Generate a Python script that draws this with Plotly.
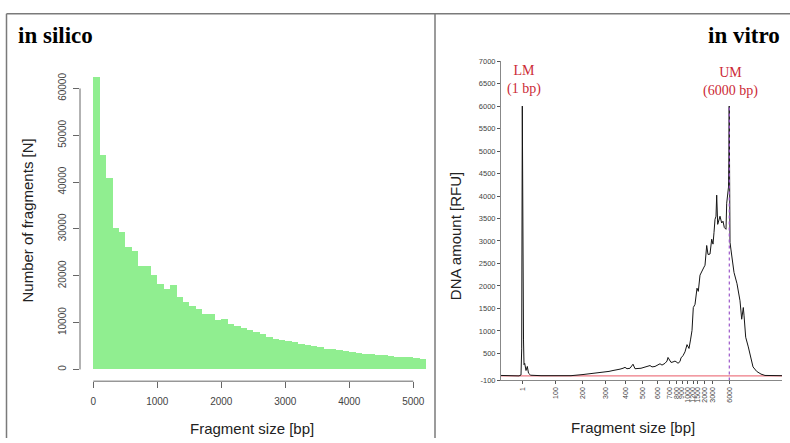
import plotly.graph_objects as go

W, H = 790, 443

# ---------------- in silico histogram ----------------
bin_width = 100
bin_starts = list(range(0, 5200, bin_width))
counts = [62500, 45700, 40900, 30300, 29400, 26200, 25200, 22100, 22100, 20200,
          18200, 17200, 18000, 15500, 14500, 13600, 12800, 11800, 11800, 10500,
          10700, 9800, 9300, 8900, 8400, 7950, 7500, 6900, 6600, 6350,
          6000, 5800, 5500, 5200, 4950, 4800, 4450, 4300, 4100, 3900,
          3700, 3550, 3400, 3300, 3050, 3000, 2850, 2700, 2650, 2600,
          2500, 2300]
silico_xticks = [0, 1000, 2000, 3000, 4000, 5000]
silico_yticks = [0, 10000, 20000, 30000, 40000, 50000, 60000]

# ---------------- in vitro electropherogram ----------------
ladder_bp = ["1", "100", "200", "300", "400", "500", "600", "700", "800", "900",
             "1000", "1200", "1500", "2000", "3000", "6000"]
ladder_pos = [21.7, 54.5, 81.5, 104.5, 124.3, 141.7, 156.5, 168.5, 175.7, 181,
              186.7, 192, 196.7, 203.3, 211.5, 228.3]
migration = [0, 10, 18, 20, 20.7, 21.3, 21.7, 22.0, 22.5, 23, 23.7, 25, 26.3, 27.5, 29.7,
             40, 55, 70, 82, 95, 104, 108, 112, 116, 119, 122, 124, 126, 129, 132, 134,
             140, 144, 149, 151, 154, 159, 161, 164, 166, 167, 168.5, 170, 172, 174, 176,
             177, 179, 180, 182, 184, 186, 188, 189.5, 191, 192.3, 194, 196, 197.3, 199,
             201.7, 203, 204, 205.7, 207, 209, 210.7, 212, 213, 214, 215, 215.7, 216.7,
             218.3, 219, 220.7, 222, 223.3, 225, 225.7, 226.7, 227.5, 227.8, 228.2, 228.6,
             229, 230, 233, 236, 239, 240.7, 242.3, 243, 244.7, 247.3, 249, 250.7, 252,
             255.7, 260, 264, 270, 281]
rfu = [10, 5, 0, 20, 600, 6000, 3000, 1390, 800, 250, 280, 120, 210, 60, 15,
       5, 0, 5, 30, 60, 80, 100, 120, 130, 150, 170, 190, 160, 170, 260, 160,
       170, 190, 230, 200, 210, 270, 240, 280, 330, 410, 350, 300, 310, 330, 300,
       280, 320, 400, 450, 535, 695, 610, 800, 1010, 1520, 1590, 1950, 1880, 2240,
       2390, 2420, 2460, 2900, 2700, 2710, 3040, 2930, 3190, 3480, 3550, 4020, 3370,
       3510, 3550, 3400, 3440, 3300, 3260, 3840, 3985, 4200, 4800, 6000, 4500,
       2970, 2800, 2300, 2050, 1670, 1260, 1520, 1350, 860, 645, 460, 280, 200,
       100, 40, 10, 5, 5]
vitro_yticks = [-100, 500, 1000, 1500, 2000, 2500, 3000, 3500, 4000, 4500,
                5000, 5500, 6000, 6500, 7000]
baseline_rfu = 0
marker_peak_rfu = 6000


def fx(px):
    return px / W


def fy(py):
    return (H - py) / H


fig = go.Figure()

# histogram bars
fig.add_trace(go.Bar(
    x=[s + bin_width / 2 for s in bin_starts], y=counts, width=bin_width,
    marker=dict(color="#90EE90", line=dict(width=0)),
    xaxis="x", yaxis="y", showlegend=False, hoverinfo="x+y"))

# red baseline
fig.add_trace(go.Scatter(
    x=[0, 281], y=[baseline_rfu, baseline_rfu], mode="lines",
    line=dict(color="#ee7a84", width=1.2), xaxis="x2", yaxis="y2",
    showlegend=False, hoverinfo="skip"))

# electropherogram
fig.add_trace(go.Scatter(
    x=migration, y=rfu, mode="lines", line=dict(color="#151515", width=1.0),
    xaxis="x2", yaxis="y2", showlegend=False))

# upper marker dotted line
um_pos = ladder_pos[ladder_bp.index("6000")]
fig.add_trace(go.Scatter(
    x=[um_pos, um_pos], y=[vitro_yticks[0], marker_peak_rfu], mode="lines",
    line=dict(color="#9a55c8", width=1.2, dash="dot"),
    xaxis="x2", yaxis="y2", showlegend=False, hoverinfo="skip"))

silico_ymax = max(counts)
silico_xmax = bin_starts[-1] + bin_width

axis_font = dict(family="Liberation Sans, Arial", size=10, color="#444444")

fig.update_layout(
    width=W, height=H,
    margin=dict(l=0, r=0, t=0, b=0),
    paper_bgcolor="white", plot_bgcolor="white",
    bargap=0,
    xaxis=dict(domain=[fx(80), fx(439.4)],
               range=[-0.04 * silico_xmax, 1.04 * silico_xmax],
               tickvals=silico_xticks, ticktext=[str(v) for v in silico_xticks],
               ticks="outside", ticklen=6,
               tickcolor="#666666", tickwidth=1, showgrid=False, zeroline=False,
               showline=False, tickfont=axis_font, ticklabelstandoff=5,
               anchor="y"),
    yaxis=dict(domain=[fy(385), fy(62.3)],
               range=[-0.04 * silico_ymax, 1.04 * silico_ymax],
               tickvals=silico_yticks, ticktext=[str(v) for v in silico_yticks],
               ticks="outside", ticklen=6,
               tickcolor="#666666", tickwidth=1, showgrid=False, zeroline=False,
               showline=False, tickangle=-90, tickfont=axis_font,
               ticklabelstandoff=3, anchor="x"),
    xaxis2=dict(domain=[fx(501), fx(782)], range=[0, 281],
                tickvals=ladder_pos, ticktext=ladder_bp, tickangle=-90,
                ticks="outside", ticklen=3, tickcolor="#555555",
                showgrid=False, zeroline=False, showline=True,
                linecolor="#888888", linewidth=1,
                tickfont=dict(family="Liberation Sans, Arial", size=7,
                              color="#444444"),
                anchor="y2"),
    yaxis2=dict(domain=[fy(384.2), fy(58.3)], range=[vitro_yticks[0], vitro_yticks[-1]],
                tickvals=vitro_yticks, ticktext=[str(v) for v in vitro_yticks],
                ticks="outside", ticklen=3,
                tickcolor="#555555", showgrid=False, zeroline=False,
                showline=True, linecolor="#888888", linewidth=1,
                tickfont=dict(family="Liberation Sans, Arial", size=7.5,
                              color="#444444"),
                anchor="x2"),
)

shapes = [
    # R-style axis lines spanning the tick range
    dict(type="line", xref="x", yref="y domain", x0=silico_xticks[0], x1=silico_xticks[-1],
         y0=0, y1=0, line=dict(color="#666666", width=1)),
    dict(type="line", xref="x domain", yref="y", x0=0, x1=0,
         y0=silico_yticks[0], y1=silico_yticks[-1], line=dict(color="#666666", width=1)),
    # frame of the composite figure
    dict(type="line", xref="paper", yref="paper", x0=fx(6.5), x1=fx(790), y0=fy(10), y1=fy(10),
         line=dict(color="#7a7a7a", width=1.5)),
    dict(type="line", xref="paper", yref="paper", x0=fx(6.5), x1=fx(6.5), y0=fy(10), y1=fy(443),
         line=dict(color="#7a7a7a", width=1.5)),
    dict(type="line", xref="paper", yref="paper", x0=fx(435), x1=fx(435), y0=fy(10), y1=fy(443),
         line=dict(color="#7a7a7a", width=1.5)),
]
fig.update_layout(shapes=shapes)

title_font = dict(family="Liberation Serif, Times New Roman", size=23, color="black")
label_font = dict(family="Liberation Sans, Arial", size=15, color="#222222")
marker_font = dict(family="Liberation Serif, Times New Roman", size=14, color="#cc2a36")

annotations = [
    dict(text="<b>in silico</b>", xref="paper", yref="paper", x=fx(16), y=fy(32),
         xanchor="left", yanchor="middle", showarrow=False, font=title_font),
    dict(text="<b>in vitro</b>", xref="paper", yref="paper", x=fx(782), y=fy(32),
         xanchor="right", yanchor="middle", showarrow=False, font=title_font),
    dict(text="Number of fragments [N]", xref="paper", yref="paper", x=fx(28), y=fy(221),
         xanchor="center", yanchor="middle", textangle=-90, showarrow=False, font=label_font),
    dict(text="Fragment size [bp]", xref="paper", yref="paper", x=fx(252), y=fy(433),
         xanchor="center", yanchor="middle", showarrow=False, font=label_font),
    dict(text="DNA amount [RFU]", xref="paper", yref="paper", x=fx(455), y=fy(237),
         xanchor="center", yanchor="middle", textangle=-90, showarrow=False, font=label_font),
    dict(text="Fragment size [bp]", xref="paper", yref="paper", x=fx(633), y=fy(432),
         xanchor="center", yanchor="middle", showarrow=False, font=label_font),
    dict(text="LM<br>(1 bp)", xref="x2", yref="y2", x=ladder_pos[0] + 1.5, y=6570,
         xanchor="center", yanchor="middle", showarrow=False, font=marker_font),
    dict(text="UM<br>(6000 bp)", xref="x2", yref="y2", x=um_pos + 1.5, y=6530,
         xanchor="center", yanchor="middle", showarrow=False, font=marker_font),
]
fig.update_layout(annotations=annotations)

fig.write_html(
    "out.html",
    config={"displayModeBar": False},
    post_script="document.body.style.margin='0';document.body.style.overflow='hidden';",
)
